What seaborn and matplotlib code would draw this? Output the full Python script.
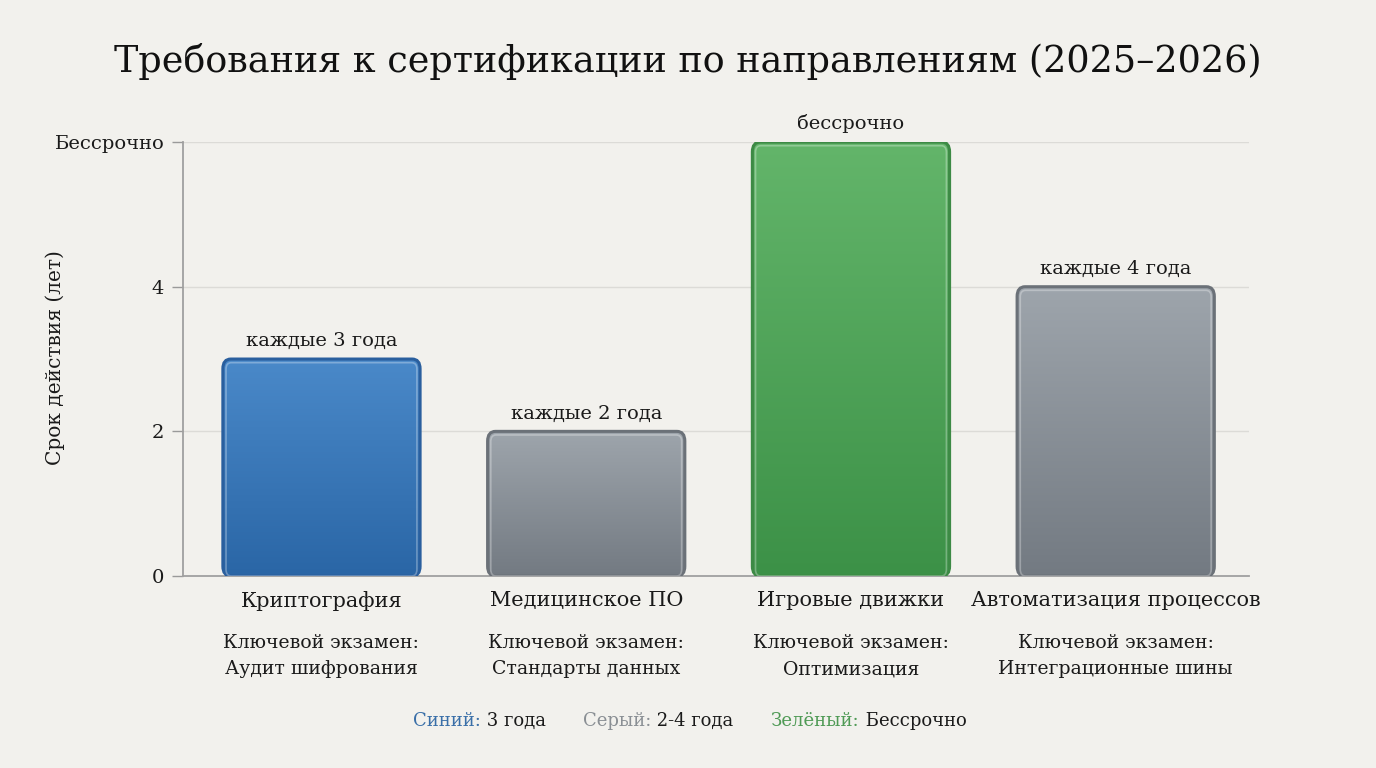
import numpy as np
import pandas as pd
import matplotlib
matplotlib.use('Agg')
import matplotlib.pyplot as plt
from matplotlib.patches import FancyBboxPatch
from matplotlib.colors import LinearSegmentedColormap
import seaborn as sns

# данные
categories = ['Криптография', 'Медицинское ПО', 'Игровые движки', 'Автоматизация процессов']
years = [3, 2, 6, 4]   # 6 = бессрочно
bar_labels = ['каждые 3 года', 'каждые 2 года', 'бессрочно', 'каждые 4 года']
exams = ['Аудит шифрования', 'Стандарты данных', 'Оптимизация', 'Интеграционные шины']
groups = ['blue', 'gray', 'green', 'gray']
yticks = [0, 2, 4, 6]
ytick_labels = ['0', '2', '4', 'Бессрочно']

# цвета: верх, низ, кромка
colors = {
    'blue': ('#4a89c9', '#2a66a6', '#2a5f9e'),
    'gray': ('#9ea5ac', '#737a82', '#6b7178'),
    'green': ('#63b56a', '#3c9147', '#3d8a45'),
}
bg = '#f2f1ed'

sns.set_theme(style='white')
plt.rcParams['font.family'] = ['DejaVu Serif', 'DejaVu Sans']

df = pd.DataFrame({'cat': categories, 'years': years})

fig = plt.figure(figsize=(13.76, 7.68), dpi=100, facecolor=bg)
ax = fig.add_axes([0.133, 0.25, 0.775, 0.565], facecolor=bg)

sns.barplot(data=df, x='cat', y='years', ax=ax, width=0.745, color='#999999')

# градиент и скругления вместо плоских прямоугольников
for p, g in zip(ax.patches, groups):
    x0, w, h = p.get_x(), p.get_width(), p.get_height()
    p.set_visible(False)
    top, bottom, edge = colors[g]
    box = FancyBboxPatch((x0, 0), w, h, boxstyle='round,pad=0,rounding_size=0.03',
                         mutation_aspect=4.5, facecolor='none', edgecolor=edge,
                         linewidth=2.2, zorder=3)
    ax.add_patch(box)
    cmap = LinearSegmentedColormap.from_list('g', [bottom, top])
    grad = np.linspace(0, 1, 256).reshape(-1, 1)
    im = ax.imshow(grad, cmap=cmap, origin='lower', aspect='auto',
                   extent=[x0, x0 + w, 0, h], zorder=2)
    im.set_clip_path(box)
    inner = FancyBboxPatch((x0 + 0.012, 0), w - 0.024, h - 0.05,
                           boxstyle='round,pad=0,rounding_size=0.02', mutation_aspect=4.5,
                           facecolor='none', edgecolor='white', alpha=0.3,
                           linewidth=1.2, zorder=3)
    ax.add_patch(inner)

ax.set_xlim(-0.523, 3.505)
ax.set_ylim(0, 6)

for i, (v, lab) in enumerate(zip(years, bar_labels)):
    ax.text(i, v + 0.12, lab, ha='center', va='bottom', fontsize=14, color='#1a1a1a')

ax.set_yticks(yticks)
ax.set_yticklabels(ytick_labels, fontsize=14, color='#1a1a1a')
ax.yaxis.grid(True, color='#dcdbd7', linewidth=1)
ax.set_axisbelow(True)
ax.tick_params(axis='y', left=True, length=8, width=1, color='#9a9a9a', pad=5.5)
ax.tick_params(axis='x', bottom=False, pad=5)
ax.set_xticks(range(len(categories)))
ax.set_xticklabels(categories, fontsize=15, color='#1a1a1a')
ax.set_xlabel('')
ax.set_ylabel('')

for s in ['top', 'right']:
    ax.spines[s].set_visible(False)
ax.spines['left'].set_color('#a0a0a0')
ax.spines['bottom'].set_color('#a0a0a0')
ax.spines['left'].set_linewidth(1.3)
ax.spines['bottom'].set_linewidth(1.3)

fig.text(55 / 1376, 1 - 358 / 768, 'Срок действия (лет)', rotation=90, ha='center',
         va='center', fontsize=14.5, color='#1a1a1a')

trans = ax.get_xaxis_transform()
for i, ex in enumerate(exams):
    ax.text(i, -0.133, 'Ключевой экзамен:\n' + ex, transform=trans, ha='center', va='top',
            fontsize=13.6, color='#1a1a1a', linespacing=1.6)

fig.text(0.5, 1 - 62 / 768, 'Требования к сертификации по направлениям (2025–2026)',
         ha='center', va='center', fontsize=26.3, color='#111111')

# подпись цветов
fig.canvas.draw()
rend = fig.canvas.get_renderer()
legend_parts = [('Синий:', '#3a6fa8', 413), (' 3 года', '#1a1a1a', None),
                ('Серый:', '#8a8f94', 583), (' 2-4 года', '#1a1a1a', None),
                ('Зелёный:', '#4f9a55', 771), (' Бессрочно', '#1a1a1a', None)]
xpix = 0
for txt, col, start in legend_parts:
    if start is not None:
        xpix = start
    t = fig.text(xpix / 1376, 1 - 721 / 768, txt, ha='left', va='center', fontsize=13, color=col)
    xpix += t.get_window_extent(rend).width

fig.savefig('out.png', dpi=100, facecolor=bg)
